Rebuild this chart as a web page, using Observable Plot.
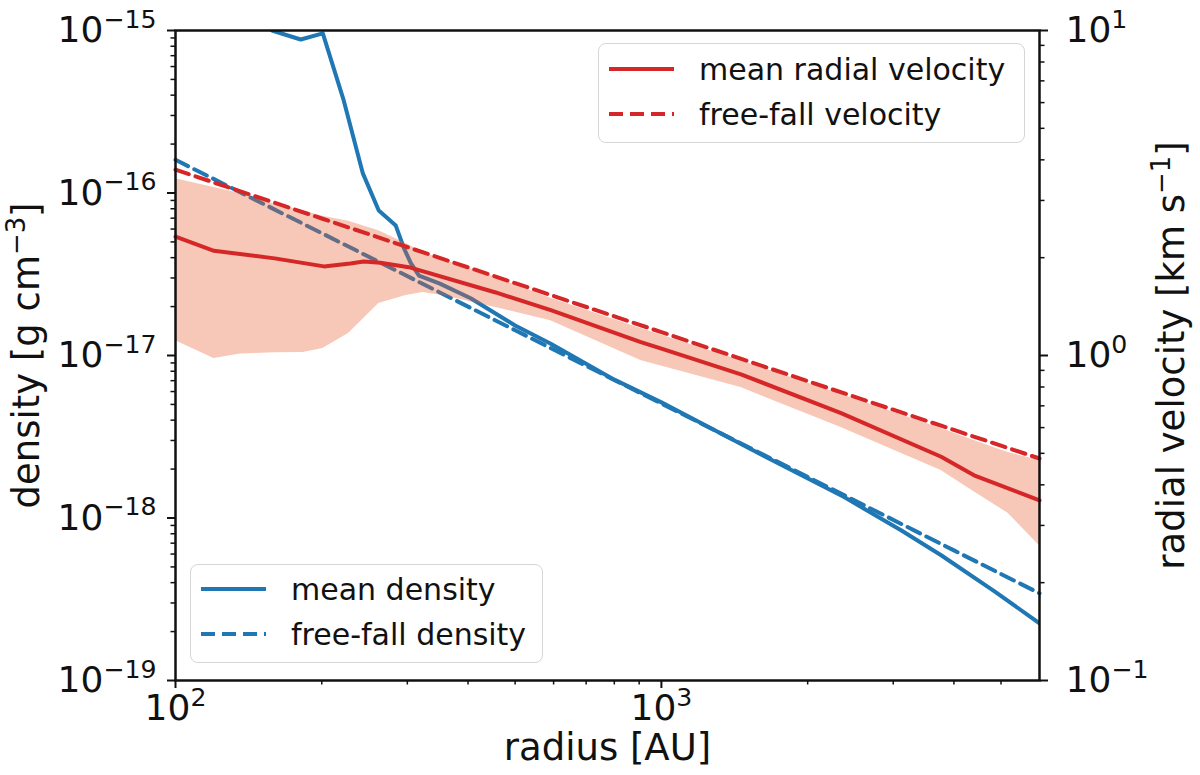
<!DOCTYPE html>
<html>
<head>
<meta charset="utf-8">
<script src="https://cdn.jsdelivr.net/npm/d3@7"></script>
<script src="https://cdn.jsdelivr.net/npm/@observablehq/plot@0.6"></script>
<style>
  body { margin: 0; background: #fff; overflow: hidden; }
  #wrap { position: relative; width: 1200px; height: 775px; font-family: "DejaVu Sans", sans-serif; color: #111; }
  .legend { position: absolute; box-sizing: border-box; border: 1.5px solid #d6d6d6; border-radius: 8px; background: rgba(255,255,255,0.8); }
  .row { position: absolute; left: 10px; height: 40px; display: flex; align-items: center; font-size: 30px; white-space: nowrap; }
  .row span { margin-left: 25px; }
</style>
</head>
<body>
<div id="wrap"></div>
<script>
const BLUE = "#1f77b4";
const RED = "#d62728";
const BAND = "#e85f32";

// mean density (g cm^-3) vs radius (AU)
const radiusDens = [140, 158, 181, 201, 222, 243, 262, 284, 295, 305, 317, 350, 405, 500, 592, 800, 1000, 1529, 2377, 3113, 3765, 4840, 6000];
const meanDensity = [1.5e-15, 1.0e-15, 8.8e-16, 9.6e-16, 3.7e-16, 1.32e-16, 7.8e-17, 6.3e-17, 4.6e-17, 3.7e-17, 3.1e-17, 2.77e-17, 2.25e-17, 1.53e-17, 1.18e-17, 7.1e-18, 5.15e-18, 2.65e-18, 1.345e-18, 8.4e-19, 5.9e-19, 3.55e-19, 2.25e-19];

// free-fall curves
const radiusFF = [100, 200, 500, 1000, 2000, 4000, 6000];
const ffDensity = [1.6e-16, 5.66e-17, 1.43e-17, 5.06e-18, 1.79e-18, 6.32e-19, 3.44e-19];
const ffVelocity = [3.73, 2.64, 1.67, 1.18, 0.834, 0.59, 0.482];

// mean radial velocity (km/s), right axis
const radiusVel = [100, 120, 160, 202, 229, 244, 264, 302, 456, 592, 907, 1000, 1458, 2343, 3765, 4400, 6000];
const meanVelocity = [2.32, 2.10, 1.99, 1.88, 1.92, 1.945, 1.93, 1.87, 1.563, 1.38, 1.10, 1.05, 0.875, 0.665, 0.488, 0.428, 0.358];

// spread band around the mean velocity
const bandRadius = [100, 120, 136, 160, 183, 201, 227, 262, 298, 323, 355, 456, 592, 907, 1458, 2343, 3765, 4400, 5170, 6000];
const bandHigh = [3.5, 3.29, 3.15, 2.92, 2.79, 2.68, 2.59, 2.42, 2.21, 2.08, 1.97, 1.74, 1.50, 1.21, 0.965, 0.76, 0.596, 0.548, 0.503, 0.475];
const bandLow = [1.11, 0.979, 1.01, 1.02, 1.021, 1.05, 1.169, 1.445, 1.53, 1.563, 1.53, 1.405, 1.28, 0.965, 0.797, 0.60, 0.443, 0.381, 0.327, 0.26];

// ticks
const xMajor = [100, 1000];
const xMinor = [200, 300, 400, 500, 600, 700, 800, 900, 2000, 3000, 4000, 5000];
const densMajor = [1e-19, 1e-18, 1e-17, 1e-16, 1e-15];
const velMajor = [0.1, 1, 10];

// velocity shares the density scale: 0.1..10 km/s spans 1e-19..1e-15
const velToDens = v => 1e-17 * v * v;

const pow10 = e => `10^{${String(e).replace("-", "\u2212")}}`;
const exp = d => Math.round(Math.log10(d));

const densMinor = densMajor.slice(0, -1).flatMap(d => d3.range(2, 10).map(k => d * k));
const velMinor = velMajor.slice(0, -1).flatMap(v => d3.range(2, 10).map(k => v * k));

const densRows = radiusDens.map((r, i) => ({r, rho: meanDensity[i]}));
const ffRows = radiusFF.map((r, i) => ({r, rho: ffDensity[i], v: velToDens(ffVelocity[i])}));
const velRows = radiusVel.map((r, i) => ({r, v: velToDens(meanVelocity[i])}));
const bandRows = bandRadius.map((r, i) => ({r, lo: velToDens(bandLow[i]), hi: velToDens(bandHigh[i])}));

const tickFont = {fontSize: 36, fontFamily: "DejaVu Sans", label: null};
const labelFont = {fontSize: 37, fontFamily: "DejaVu Sans", fill: "#111", textAnchor: "middle"};

const plot = Plot.plot({
  width: 1200,
  height: 775,
  marginLeft: 175,
  marginRight: 161,
  marginTop: 30,
  marginBottom: 95,
  x: {type: "log", domain: [100, 6000]},
  y: {type: "log", domain: [1e-19, 1e-15]},
  style: {color: "#111", background: "transparent", overflow: "visible"},
  marks: [
    Plot.line(densRows, {x: "r", y: "rho", stroke: BLUE, strokeWidth: 4, clip: true}),
    Plot.line(ffRows, {x: "r", y: "rho", stroke: BLUE, strokeWidth: 4, strokeDasharray: "14,7"}),
    Plot.areaY(bandRows, {x: "r", y1: "lo", y2: "hi", fill: BAND, fillOpacity: 0.35}),
    Plot.line(velRows, {x: "r", y: "v", stroke: RED, strokeWidth: 4}),
    Plot.line(ffRows, {x: "r", y: "v", stroke: RED, strokeWidth: 4, strokeDasharray: "14,7"}),

    Plot.axisX({...tickFont, ticks: xMajor, tickFormat: d => pow10(exp(d)), tickSize: 8, tickPadding: 6, strokeWidth: 2}),
    Plot.axisX({label: null, ticks: xMinor, tickFormat: () => "", tickSize: 4.5, strokeWidth: 1.5}),
    Plot.axisY({...tickFont, ticks: densMajor, tickFormat: d => pow10(exp(d)), tickSize: 8, tickPadding: 11, strokeWidth: 2}),
    Plot.axisY({label: null, ticks: densMinor, tickFormat: () => "", tickSize: 4.5, strokeWidth: 1.5}),
    Plot.axisY({...tickFont, anchor: "right", ticks: velMajor.map(velToDens), tickFormat: d => pow10(Math.round((Math.log10(d) + 17) / 2)), tickSize: 8, tickPadding: 18, strokeWidth: 2}),
    Plot.axisY({label: null, anchor: "right", ticks: velMinor.map(velToDens), tickFormat: () => "", tickSize: 4.5, strokeWidth: 1.5}),
    Plot.frame({stroke: "#111", strokeWidth: 2.5}),

    Plot.text(["radius [AU]"], {...labelFont, frameAnchor: "bottom", dy: 79}),
    Plot.text(["density [g cm^{\u22123}]"], {...labelFont, frameAnchor: "left", dx: -148, rotate: -90}),
    Plot.text(["radial velocity [km s^{\u22121}]"], {...labelFont, frameAnchor: "right", dx: 133, rotate: -90})
  ]
});

const wrap = document.getElementById("wrap");
wrap.append(plot);

// turn "a^{b}c" into real text with a raised, smaller tspan
const SVGNS = "http://www.w3.org/2000/svg";
plot.querySelectorAll("text").forEach(t => {
  const m = t.textContent.match(/^(.*)\^\{(.+?)\}(.*)$/);
  if (!m) return;
  const fs = parseFloat(getComputedStyle(t).fontSize);
  const rise = fs * 0.39;
  t.textContent = "";
  const base = document.createElementNS(SVGNS, "tspan");
  base.textContent = m[1];
  const sup = document.createElementNS(SVGNS, "tspan");
  sup.textContent = m[2];
  sup.setAttribute("font-size", fs * 0.7);
  sup.setAttribute("dy", -rise);
  t.append(base, sup);
  if (m[3]) {
    const rest = document.createElementNS(SVGNS, "tspan");
    rest.textContent = m[3];
    rest.setAttribute("dy", rise);
    t.append(rest);
  }
});

function legend(items, box) {
  const div = document.createElement("div");
  div.className = "legend";
  Object.assign(div.style, {left: box.left + "px", top: box.top + "px", width: box.width + "px", height: box.height + "px"});
  items.forEach((it, i) => {
    const row = document.createElement("div");
    row.className = "row";
    row.style.top = (box.rowTop + i * 45 - 20) + "px";
    row.innerHTML = `<svg width="65" height="10"><line x1="0" x2="65" y1="5" y2="5" stroke="${it.color}" stroke-width="4" ${it.dash ? 'stroke-dasharray="14,7"' : ""}/></svg><span>${it.label}</span>`;
    div.append(row);
  });
  wrap.append(div);
}

legend([
  {label: "mean radial velocity", color: RED},
  {label: "free-fall velocity", color: RED, dash: true}
], {left: 598, top: 43, width: 427, height: 100, rowTop: 25});

legend([
  {label: "mean density", color: BLUE},
  {label: "free-fall density", color: BLUE, dash: true}
], {left: 190, top: 564, width: 353, height: 99, rowTop: 24});
</script>
</body>
</html>
